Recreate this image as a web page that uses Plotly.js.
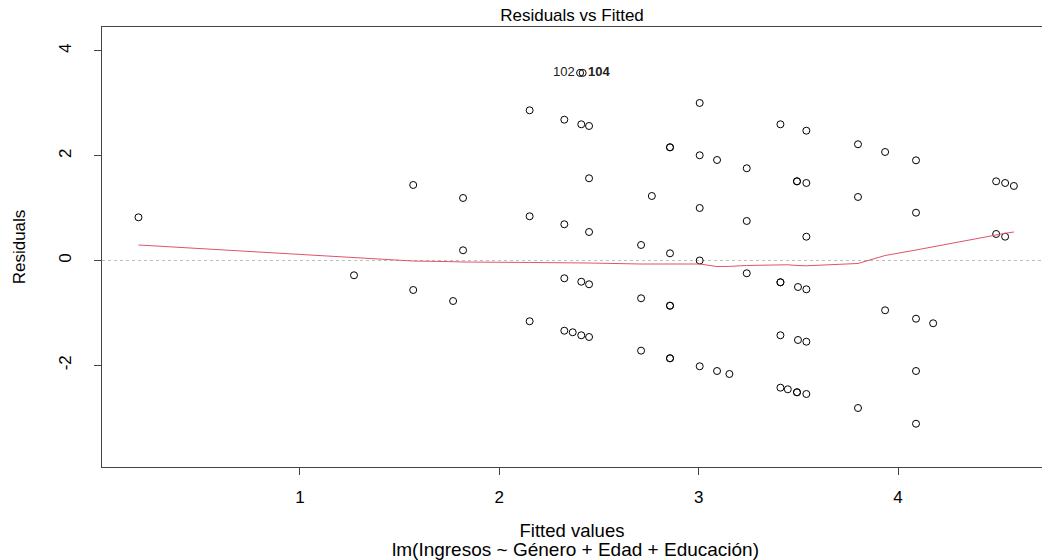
<!DOCTYPE html>
<html>
<head>
<meta charset="utf-8">
<script src="https://cdn.plot.ly/plotly-3.0.1.min.js"></script>
<style>html,body{margin:0;padding:0;background:#fff;}#chart{width:1042px;height:560px;}</style>
</head>
<body>
<div id="chart"></div>
<script>
// Fitted values (x) and residuals (y)
const fittedValues = [
  0.190, 1.271, 1.568, 1.568, 1.768, 1.818, 1.818,
  2.152, 2.152, 2.152,
  2.326, 2.326, 2.326, 2.326, 2.368,
  2.411, 2.411, 2.411,
  2.450, 2.450, 2.450, 2.450, 2.450,
  2.711, 2.711, 2.711, 2.765,
  2.856, 2.856, 2.856, 2.856, 2.856, 2.856, 2.856,
  3.005, 3.005, 3.005, 3.005, 3.005,
  3.092, 3.092, 3.154,
  3.241, 3.241, 3.241,
  3.410, 3.410, 3.410, 3.410, 3.410, 3.447,
  3.493, 3.493, 3.498, 3.498, 3.493, 3.493,
  3.540, 3.540, 3.540, 3.540, 3.540, 3.540,
  3.799, 3.799, 3.799,
  3.935, 3.935,
  4.090, 4.090, 4.090, 4.090, 4.090,
  4.176,
  4.492, 4.537, 4.581, 4.492, 4.537
];
const residualValues = [
  0.824, -0.282, 1.441, -0.563, -0.773, 1.193, 0.195,
  2.866, 0.844, -1.160,
  2.687, 0.691, -0.340, -1.340, -1.370,
  2.599, -0.405, -1.427,
  2.567, 1.569, 0.544, -0.454, -1.460,
  0.296, -0.721, -1.721, 1.231,
  2.160, 2.160, 0.137, -0.863, -0.863, -1.866, -1.866,
  3.006, 2.008, 1.002, 0.000, -2.019,
  1.918, -2.109, -2.166,
  1.760, 0.754, -0.244,
  2.599, -0.416, -0.416, -1.427, -2.427, -2.458,
  1.511, 1.511, -0.506, -1.517, -2.515, -2.515,
  2.477, 1.479, 0.454, -0.550, -1.550, -2.548,
  2.218, 1.212, -2.815,
  2.071, -0.950,
  1.912, 0.912, -1.111, -2.109, -3.115,
  -1.198,
  1.511, 1.479, 1.422, 0.506, 0.454
];
// Labelled extreme observations
const idFitted = [2.405, 2.418];
const idResidual = [3.58, 3.58];
const idLabels = ["102", "<b>104</b>"];
const idPositions = ["middle left", "middle right"];
// Smoother (lowess) curve
const smoothX = [0.190, 1.271, 1.568, 1.768, 1.818, 2.152, 2.326, 2.368, 2.411, 2.450, 2.711, 2.765, 2.856, 3.005, 3.092, 3.154, 3.241, 3.410, 3.447, 3.493, 3.540, 3.799, 3.935, 4.090, 4.176, 4.492, 4.537, 4.581];
const smoothY = [0.296, 0.055, -0.010, -0.023, -0.029, -0.038, -0.040, -0.040, -0.042, -0.048, -0.067, -0.067, -0.067, -0.067, -0.115, -0.113, -0.095, -0.073, -0.082, -0.095, -0.101, -0.057, 0.095, 0.200, 0.261, 0.496, 0.519, 0.544];
const xTicks = [1, 2, 3, 4];
const yTicks = [-2, 0, 2, 4];

const FONT = '"Liberation Sans", Arial, sans-serif';
const traces = [
  {
    x: [0.007, 4.722], y: [0, 0], mode: 'lines', hoverinfo: 'skip',
    line: {color: '#bebebe', width: 1, dash: 'dot'}, showlegend: false
  },
  {
    x: fittedValues, y: residualValues, mode: 'markers', type: 'scatter',
    marker: {symbol: 'circle-open', size: 7, color: '#000', line: {width: 1, color: '#000'}},
    showlegend: false
  },
  {
    x: idFitted, y: idResidual, mode: 'markers+text', type: 'scatter',
    text: idLabels, textposition: idPositions,
    textfont: {family: FONT, size: 13, color: '#222'},
    marker: {symbol: 'circle-open', size: 7, color: '#000', line: {width: 1, color: '#000'}},
    showlegend: false
  },
  {
    x: smoothX, y: smoothY, mode: 'lines', type: 'scatter',
    line: {color: '#DF536B', width: 1}, showlegend: false
  }
];

const layout = {
  width: 1042, height: 560,
  margin: {l: 102, r: 0, t: 27, b: 93, pad: 0},
  paper_bgcolor: '#fff', plot_bgcolor: '#fff',
  font: {family: FONT, size: 17, color: '#000'},
  title: {text: 'Residuals vs Fitted', font: {family: FONT, size: 17, color: '#000'},
          x: 0.5, xref: 'paper', y: 1 - 15/560, yref: 'container', yanchor: 'middle'},
  xaxis: {
    range: [0.007, 4.722], tickvals: xTicks, ticktext: xTicks.map(String),
    ticks: 'outside', ticklen: 7, tickcolor: '#444', tickwidth: 1,
    showline: true, linecolor: '#444', linewidth: 1, mirror: true,
    showgrid: false, zeroline: false, ticklabelstandoff: 8,
    tickfont: {family: FONT, size: 17, color: '#000'},
    title: {text: 'Fitted values', font: {family: FONT, size: 18.5, color: '#000'}, standoff: 17}
  },
  yaxis: {
    range: [-3.941, 4.456], tickvals: yTicks, ticktext: yTicks.map(String),
    tickangle: -90,
    ticks: 'outside', ticklen: 7, tickcolor: '#444', tickwidth: 1,
    showline: true, linecolor: '#444', linewidth: 1, mirror: false,
    showgrid: false, zeroline: false, ticklabelstandoff: 16,
    tickfont: {family: FONT, size: 17, color: '#000'},
    title: {text: 'Residuals', font: {family: FONT, size: 17, color: '#000'}, standoff: 26}
  },
  annotations: [
    {text: 'lm(Ingresos ~ Género + Edad + Educación)', xref: 'paper', yref: 'paper',
     x: (575 - 102) / 940, y: -(549 - 467) / 440, xanchor: 'center', yanchor: 'middle', showarrow: false,
     font: {family: FONT, size: 19, color: '#000'}}
  ]
};

Plotly.newPlot('chart', traces, layout, {displayModeBar: false, staticPlot: true});
</script>
</body>
</html>
